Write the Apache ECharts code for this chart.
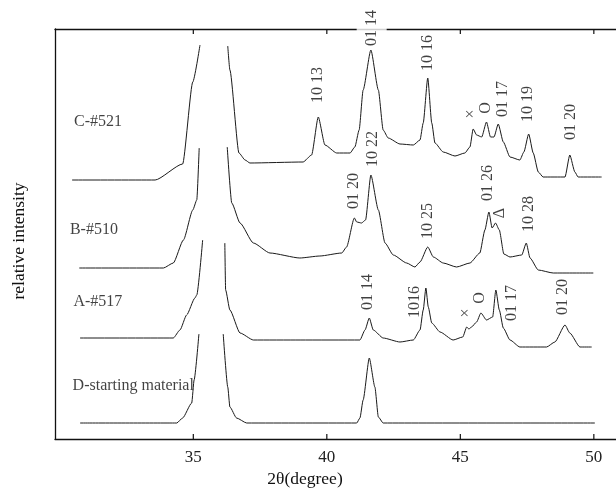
<!DOCTYPE html>
<html>
<head>
<meta charset="utf-8">
<script src="https://cdn.jsdelivr.net/npm/echarts@6/dist/echarts.min.js"></script>
<style>
html,body{margin:0;padding:0;background:#fff;}
#chart{width:616px;height:494px;}
</style>
</head>
<body>
<div id="chart"></div>
<script>
// x tick values (2θ, degree)
const xTicks = [35, 40, 45, 50];

// Traces: [2θ, relative intensity (offset stacked)], '-' marks clipped gap
const traceC = [[30.46,259],[33.57,259],[34.60,275],[34.98,357],[35.25,394],['-','-'],
  [36.29,393],[36.37,369],[36.71,286],[36.94,279],[37.12,276],[39.11,277],[39.43,284],[39.68,322],
  [39.93,294],[40.37,286],[40.87,286],[41.05,292],[41.21,309],[41.36,349],[41.65,389],[41.93,349],
  [42.11,309],[42.30,301],[42.74,295],[43.24,294],[43.49,299],[43.61,316],[43.78,361],[43.93,316],
  [44.05,296],[44.36,287],[44.80,283],[45.17,286],[45.36,292],[45.48,310],[45.61,304],[45.80,302],
  [45.98,317],[46.13,302],[46.26,302],[46.42,315],[46.61,297],[46.86,282],[47.23,279],[47.38,287],
  [47.56,305],[47.73,286],[47.92,267],[48.10,262],[48.92,262],[49.10,284],[49.29,267],[49.41,262],[50.29,262]];

const traceB = [[30.73,171],[33.88,171],[34.25,176],[34.63,199],[34.98,229],[35.13,239],[35.22,291],['-','-'],
  [36.27,292],[36.44,236],[36.75,216],[37.25,196],[37.87,186],[38.99,181],[39.74,183],[40.56,186],
  [40.74,192],[41.03,221],[41.12,217],[41.30,216],[41.45,219],[41.65,264],[41.93,229],[42.18,196],
  [42.49,184],[42.99,176],[43.30,172],[43.49,177],[43.78,192],[43.99,182],[44.36,176],[44.86,172],
  [45.36,176],[45.73,186],[45.92,209],[46.07,227],[46.19,211],[46.32,216],[46.46,209],[46.63,185],
  [46.86,182],[47.30,184],[47.47,196],[47.61,181],[47.92,169],[48.48,166],[49.98,166]];

const traceA = [[30.76,101],[34.25,101],[34.50,109],[34.75,124],[35.06,141],[35.13,144],[35.35,199],['-','-'],
  [36.18,196],[36.21,149],[36.37,129],[36.75,106],[37.25,99],[39.00,99],[41.24,99],[41.43,109],
  [41.59,121],[41.74,109],[42.11,101],[42.74,97],[43.24,99],[43.49,109],[43.61,129],[43.71,151],
  [43.80,132],[43.93,116],[44.24,107],[44.73,99],[45.09,102],[45.24,112],[45.32,110],[45.42,112],
  [45.61,117],[45.77,126],[45.98,119],[46.21,122],[46.33,149],[46.46,129],[46.61,111],[46.86,99],
  [47.23,92],[48.23,92],[48.54,97],[48.92,114],[49.10,106],[49.48,92],[49.92,92]];

const traceD = [[30.76,16],[34.38,16],[34.60,21],[34.94,36],[35.03,59],[35.21,105],['-','-'],
  [36.12,105],[36.29,52],[36.37,32],[36.62,21],[37.00,16],[39.00,16],[41.12,16],[41.24,21],
  [41.36,39],[41.59,81],[41.80,52],[41.93,22],[42.11,16],[50.04,16]];

// Peak annotations: [2θ, intensity, text]
const peakLabels = [
  [39.66,354,'10 13'],[41.68,411,'01 14'],[43.80,386,'10 16'],[45.39,325,'×'],[45.95,331,'O'],
  [46.58,340,'01 17'],[47.54,335,'10 19'],[49.13,317,'01 20'],
  [41.02,248,'01 20'],[41.72,290,'10 22'],[43.80,218,'10 25'],[46.04,256,'01 26'],[46.46,226,'Δ'],[47.58,225,'10 28'],
  [41.55,147,'01 14'],[43.30,137,'1016'],[45.20,126,'×'],[45.73,141,'O'],[46.92,136,'01 17'],[48.82,142,'01 20']
];

// Sample names: [2θ, intensity, text]
const sampleLabels = [
  [30.53,317,'C-#521'],[30.38,209,'B-#510'],[30.51,137,'A-#517'],[30.48,53,'D-starting material']
];

const Y_MIN = 0, Y_MAX = 410;
const FONT = '"Liberation Serif", "DejaVu Serif", serif';
const chart = echarts.init(document.getElementById('chart'), null, {renderer:'canvas'});

const lineSeries = [traceC, traceB, traceA, traceD].map(d => ({
  type:'line', data:d, showSymbol:false, symbol:'none', connectNulls:false,
  smooth:0.2, smoothMonotone:'x',
  lineStyle:{color:'#1a1a1a', width:1}, silent:true, animation:false, z:3
}));

const peakData = peakLabels.map(p => {
  const item = {value:[p[0], p[1]], name:p[2]};
  if (p[1] > 400) item.label = {backgroundColor:'#fff', padding:[7,0]};
  return item;
});

// inside ticks on bottom and top axes, drawn through the axis scale
const tickSeries = {
  type:'custom', silent:true, z:6, clip:false,
  data: xTicks.map(v => [v, Y_MIN]),
  encode:{x:0, y:1},
  renderItem:(params, api) => {
    const b = api.coord([api.value(0), Y_MIN]);
    const t = api.coord([api.value(0), Y_MAX]);
    const st = {stroke:'#111', lineWidth:1.2};
    return {type:'group', children:[
      {type:'line', shape:{x1:b[0], y1:b[1], x2:b[0], y2:b[1]-5}, style:st},
      {type:'line', shape:{x1:t[0], y1:t[1], x2:t[0], y2:t[1]+5}, style:st}
    ]};
  }
};

const option = {
  animation:false,
  backgroundColor:'#fff',
  grid:{left:55, right:0, top:29, bottom:55, containLabel:false},
  xAxis:[{
    type:'value', min:29.82, max:50.83, position:'bottom',
    name:'2θ(degree)', nameLocation:'middle', nameGap:30,
    nameTextStyle:{fontFamily:FONT, fontSize:17.5, color:'#111', padding:[0,61,0,0]},
    axisLine:{show:true, lineStyle:{color:'#111', width:1.3}},
    axisTick:{show:false},
    axisLabel:{show:true, customValues:xTicks, margin:10, fontFamily:FONT, fontSize:17, color:'#222'},
    splitLine:{show:false}
  },{
    type:'value', min:29.82, max:50.83, position:'top',
    axisLine:{show:true, lineStyle:{color:'#111', width:1.3}},
    axisTick:{show:false},
    axisLabel:{show:false}, splitLine:{show:false}
  }],
  yAxis:[{
    type:'value', min:Y_MIN, max:Y_MAX,
    name:'relative intensity', nameLocation:'middle', nameGap:27,
    nameTextStyle:{fontFamily:FONT, fontSize:17.5, color:'#111', padding:[0,14,0,0]},
    axisLine:{show:true, lineStyle:{color:'#111', width:1.3}},
    axisTick:{show:false}, axisLabel:{show:false}, splitLine:{show:false}
  }],
  series:[
    ...lineSeries,
    tickSeries,
    {
      type:'scatter', data:peakData, symbolSize:0, silent:true, z:5, clip:false,
      label:{show:true, position:'inside', rotate:90, formatter:p=>p.name,
        fontFamily:FONT, fontSize:16, color:'#111'}
    },
    {
      type:'scatter', data:sampleLabels.map(s=>({value:[s[0],s[1]], name:s[2]})), symbolSize:0, silent:true, z:5, clip:false,
      label:{show:true, position:'right', distance:0, formatter:p=>p.name,
        fontFamily:FONT, fontSize:16, color:'#111'}
    }
  ]
};
chart.setOption(option);
</script>
</body>
</html>
